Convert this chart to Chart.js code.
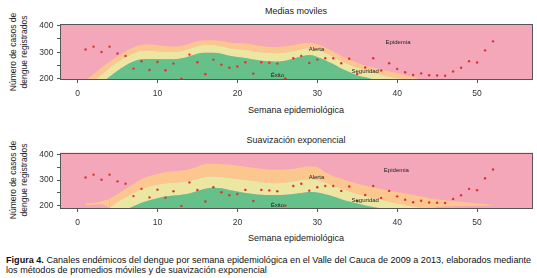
<!DOCTYPE html>
<html><head><meta charset="utf-8">
<script src="https://cdn.jsdelivr.net/npm/chart.js@4.4.0/dist/chart.umd.min.js"></script>
<style>
html,body{margin:0;padding:0;background:#fff;}
body{width:537px;height:278px;position:relative;overflow:hidden;font-family:"Liberation Sans",Arial,sans-serif;color:#222;}
.c{position:absolute;left:0;width:537px;height:100px;}
.t{position:absolute;white-space:nowrap;font-size:9px;transform:translate(-50%,-50%);color:#222;}
.yt{position:absolute;white-space:nowrap;font-size:8.5px;line-height:11px;text-align:center;transform:translate(-50%,-50%) rotate(-90deg);color:#222;}
.cap{position:absolute;left:6px;top:255px;font-size:9.1px;line-height:10px;white-space:nowrap;color:#111;}
</style></head>
<body>
<div class="t" style="left:296px;top:11px">Medias moviles</div>
<div class="t" style="left:296px;top:110px">Semana epidemiológica</div>
<div class="yt" style="left:19px;top:52px">Número de casos de<br>dengue registrados</div>
<div class="t" style="left:296px;top:140px">Suavización exponencial</div>
<div class="t" style="left:296px;top:238px">Semana epidemiológica</div>
<div class="yt" style="left:19px;top:180px">Número de casos de<br>dengue registrados</div>
<div class="c" style="top:0"><canvas id="c1" width="537" height="100"></canvas></div>
<div class="c" style="top:128px"><canvas id="c2" width="537" height="100"></canvas></div>
<div class="cap"><b>Figura 4.</b> Canales endémicos del dengue por semana epidemiológica en el Valle del Cauca de 2009 a 2013, elaborados mediante<br>los métodos de promedios móviles y de suavización exponencial</div>
<script>
// ---- data ----
const weeks = [1,2,3,4,5,6,7,8,9,10,11,12,13,14,15,16,17,18,19,20,21,22,23,24,25,26,27,28,29,30,31,32,33,34,35,36,37,38,39,40,41,42,43,44,45,46,47,48,49,50,51,52];
const casosObservados = [310,321,301,321,295,286,238,266,233,263,232,257,200,291,262,217,272,253,241,246,262,219,262,260,257,201,277,286,259,272,277,277,258,275,218,242,277,231,258,237,224,214,220,213,212,211,227,241,266,261,307,341];

// Medias moviles: upper limits of each channel
const exitoMM = [130,155,182,207,230,250,265,273,274,274,273,273,277,285,294,298,298,294,287,282,278,272,268,266,265,268,276,284,289,282,270,255,238,225,213,205,197,190,184,178,172,167,162,158,154,150,147,144,141,138,135,132];
const seguridadMM = [165,190,215,240,262,281,295,305,305,303,301,301,304,313,322,327,327,322,315,311,309,303,299,297,296,299,304,311,315,308,298,283,267,253,241,231,222,214,207,202,198,194,189,184,179,175,171,167,163,159,155,151];
const alertaMM = [193,218,242,264,285,304,318,328,329,326,322,321,323,332,341,345,345,342,337,334,333,328,323,320,319,322,327,333,336,330,318,303,287,272,260,250,242,235,228,221,213,205,198,191,185,180,176,172,168,164,160,156];

// Suavizacion exponencial: upper limits of each channel
const exitoSE = [120,140,160,172,178,186,199,212,222,230,236,240,243,248,258,266,270,268,262,256,250,246,243,242,242,243,246,250,254,252,245,236,226,217,209,202,196,191,187,183,179,176,173,170,167,164,161,158,155,152,149,146];
const seguridadSE = [203,204,206,195,215,233,250,264,275,282,287,290,292,296,305,312,314,312,308,304,300,296,292,289,288,290,294,300,303,300,290,278,266,256,246,238,230,224,216,209,203,198,193,190,196,198,199,200,200,201,202,203];
const alertaSE = [209,212,218,228,245,265,285,303,316,324,330,334,337,342,352,362,363,361,359,356,352,348,344,341,340,341,344,349,353,350,330,316,305,295,286,279,272,265,259,254,248,242,236,230,226,222,219,216,213,210,207,204];
// weeks where the Seguridad channel is not drawn (orange strip floats)
const sinSeguridadSE = [1,2,3,44,45,46,47,48,49,50,51,52];

const xTicks = [0,10,20,30,40,50];
const yTicksAll = [200,250,300,350,400];
const yTickLabels = [200,300,400];

const bandNames = ['Epidemia','Alerta','Seguridad','Éxito'];

// ---- styles ----
const COL = {pink:'#f4a7b9', orange:'#fbc78f', yellow:'#ebe7a3', green:'#66c08a', pt:'#e0302c', frame:'#555', tick:'#333'};
const FONT = '"Liberation Sans", Arial, sans-serif';

const pts = (arr) => weeks.map((w,i)=>({x:w, y:arr[i]}));

const bgPlugin = {
  id:'bg',
  beforeDatasetsDraw(chart){
    const a = chart.chartArea, ctx = chart.ctx;
    ctx.save(); ctx.fillStyle = COL.pink; ctx.fillRect(a.left, a.top, a.right-a.left, a.bottom-a.top); ctx.restore();
  },
  afterDatasetsDraw(chart, args, opts){
    const a = chart.chartArea, ctx = chart.ctx;
    const xs = chart.scales.x, ys = chart.scales.y;
    ctx.save();
    ctx.font = '6px ' + FONT; ctx.fillStyle = '#222'; ctx.textAlign='center'; ctx.textBaseline='middle';
    opts.labels.forEach(l => ctx.fillText(l.t, xs.getPixelForValue(l.x), ys.getPixelForValue(l.y)));
    ctx.strokeStyle = COL.frame; ctx.lineWidth = 1;
    ctx.strokeRect(Math.round(a.left)+0.5, Math.round(a.top)+0.5, Math.round(a.right-a.left)-1, Math.round(a.bottom-a.top)-1);
    ctx.restore();
  }
};

function makeChart(id, yMin, yMax, padTop, xHeight, exito, seguridad, alerta, hidden, labels){
  const hideIdx = new Set(hidden.map(w => weeks.indexOf(w)));
  return new Chart(document.getElementById(id), {
    type:'line',
    data:{datasets:[
      {label:'Éxito', data:pts(exito), fill:'start', backgroundColor:COL.green, borderWidth:0, pointRadius:0, cubicInterpolationMode:'monotone', order:1, clip:0},
      {label:'Seguridad', data:pts(seguridad), fill:'-1', backgroundColor:COL.yellow, borderWidth:0, pointRadius:0, cubicInterpolationMode:'monotone', order:1, clip:0,
        segment:{backgroundColor: ctx => hideIdx.has(ctx.p0DataIndex) ? 'rgba(0,0,0,0)' : COL.yellow}},
      {label:'Alerta', data:pts(alerta), fill:'-1', backgroundColor:COL.orange, borderWidth:0, pointRadius:0, cubicInterpolationMode:'monotone', order:1, clip:0},
      {label:'Casos', data:pts(casosObservados), showLine:false, fill:false, pointRadius:1.2, pointBackgroundColor:COL.pt, pointBorderWidth:0, order:0}
    ]},
    options:{
      responsive:false, animation:false, events:[],
      layout:{padding:{top:padTop, right:3.5, left:0, bottom:0}},
      plugins:{legend:{display:false}, tooltip:{enabled:false}, bg:{labels}},
      scales:{
        x:{type:'linear', min:-2.2, max:57,
          afterBuildTicks: s => { s.ticks = xTicks.map(v=>({value:v})); },
          afterFit: s => { s.height = xHeight; },
          ticks:{font:{size:8.5, family:FONT}, color:COL.tick, padding:6, maxRotation:0, autoSkip:false},
          grid:{drawOnChartArea:false, drawTicks:true, tickLength:3, color:'#555'},
          border:{display:false}},
        y:{type:'linear', min:yMin, max:yMax,
          afterBuildTicks: s => { s.ticks = yTicksAll.map(v=>({value:v})); },
          afterFit: s => { s.width = 60; },
          ticks:{font:{size:8.5, family:FONT}, color:COL.tick, padding:3.5, autoSkip:false,
            callback: v => yTickLabels.includes(v) ? String(v) : ''},
          grid:{drawOnChartArea:false, drawTicks:true, tickLength:3, color:'#555'},
          border:{display:false}}
      }
    },
    plugins:[bgPlugin]
  });
}

makeChart('c1', 195, 406.5, 24, 20, exitoMM, seguridadMM, alertaMM, [],
  [{t:bandNames[0],x:40.1,y:338},{t:bandNames[1],x:29.9,y:312},{t:bandNames[2],x:36,y:227},{t:bandNames[3],x:25,y:211}]);
makeChart('c2', 188, 406, 24.7, 19, exitoSE, seguridadSE, alertaSE, sinSeguridadSE,
  [{t:bandNames[0],x:39.9,y:337},{t:bandNames[1],x:29.9,y:312},{t:bandNames[2],x:36,y:220},{t:bandNames[3],x:25,y:204}]);
</script>
</body></html>
